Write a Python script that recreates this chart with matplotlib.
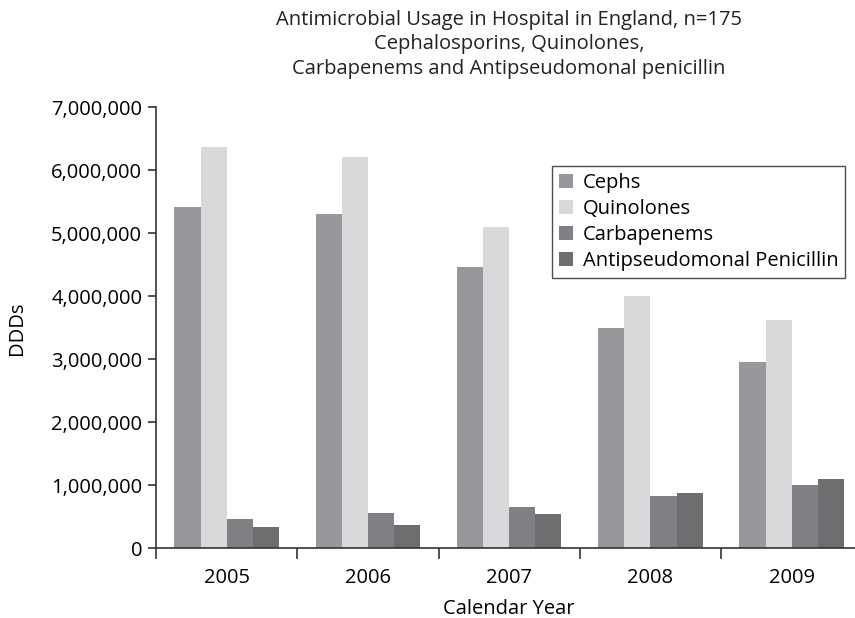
import matplotlib
matplotlib.use('Agg')
import matplotlib.pyplot as plt
import numpy as np
from matplotlib.ticker import FuncFormatter, FixedLocator

# data (DDDs)
years = ['2005', '2006', '2007', '2008', '2009']
cephs = [5420000, 5300000, 4470000, 3500000, 2950000]
quinolones = [6360000, 6200000, 5100000, 4000000, 3620000]
carbapenems = [460000, 556000, 650000, 840000, 1000000]
antipseudomonal = [335000, 365000, 540000, 873000, 1095000]

series = [('Cephs', cephs, '#98989c'),
          ('Quinolones', quinolones, '#d8d9db'),
          ('Carbapenems', carbapenems, '#808184'),
          ('Antipseudomonal Penicillin', antipseudomonal, '#6d6e70')]

plt.rcParams['font.family'] = ['Open Sans', 'DejaVu Sans']
text_size = 14.5

fig = plt.figure(figsize=(8.55, 6.18), dpi=100)
ax = fig.add_axes([0.1825, 0.1125, 0.826, 0.7143])

x = np.arange(len(years))
w = 0.185
for i, (name, vals, col) in enumerate(series):
    ax.bar(x + (i - 1.5) * w, vals, width=w, color=col, label=name)

ax.set_xlim(-0.5, len(years) - 0.5)
ax.set_ylim(0, 7000000)
ax.set_yticks(np.arange(0, 7000001, 1000000))
ax.yaxis.set_major_formatter(FuncFormatter(lambda v, p: '{:,.0f}'.format(v)))
ax.set_xticks(x)
ax.set_xticklabels(years)
ax.xaxis.set_minor_locator(FixedLocator(np.arange(-0.5, len(years), 1.0)))
ax.tick_params(axis='x', which='major', length=0, pad=14, labelsize=text_size)
ax.tick_params(axis='x', which='minor', length=8, width=1.2, color='#333333')
ax.tick_params(axis='y', length=6, width=1.2, color='#333333', labelsize=text_size, pad=4)

for s in ['top', 'right']:
    ax.spines[s].set_visible(False)
for s in ['left', 'bottom']:
    ax.spines[s].set_linewidth(1.2)
    ax.spines[s].set_color('#333333')

ax.set_xlabel('Calendar Year', size=text_size, labelpad=8)
ax.set_ylabel('DDDs', size=text_size, labelpad=17)
ax.set_title('Antimicrobial Usage in Hospital in England, n=175\n'
             'Cephalosporins, Quinolones,\n'
             'Carbapenems and Antipseudomonal penicillin',
             size=text_size, linespacing=1.3, pad=24, color='#222222')

leg = ax.legend(loc='upper left', bbox_to_anchor=(0.56, 0.866), fontsize=text_size,
                frameon=True, fancybox=False, handlelength=0.7, handleheight=0.7,
                handletextpad=0.5, labelspacing=0.3, borderpad=0.35, borderaxespad=0)
leg.get_frame().set_edgecolor('#222222')
leg.get_frame().set_linewidth(1.0)

fig.savefig('out.png', dpi=100)
